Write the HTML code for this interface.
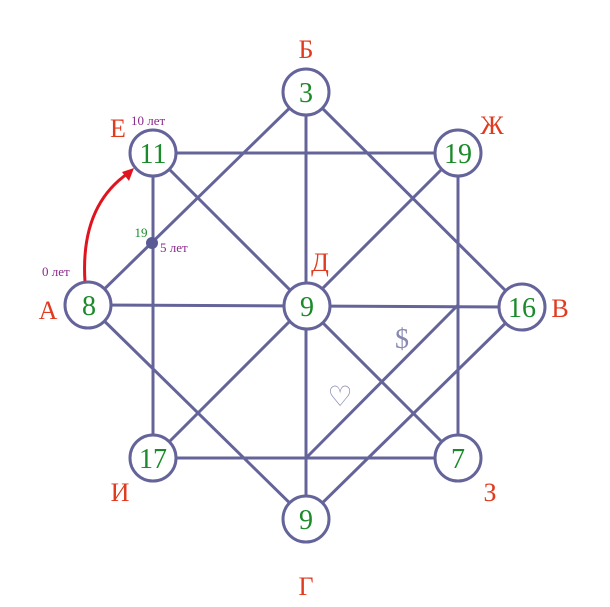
<!DOCTYPE html>
<html><head><meta charset="utf-8"><style>body{margin:0;background:#fff}svg{display:block}</style></head><body>
<svg width="610" height="607" viewBox="0 0 610 607" xmlns="http://www.w3.org/2000/svg" font-family="Liberation Serif, serif">
<g stroke="#64649a" stroke-width="3" fill="none">
<line x1="153" y1="153" x2="458" y2="153"/><line x1="458" y1="153" x2="458" y2="458"/>
<line x1="458" y1="458" x2="153" y2="458"/><line x1="153" y1="458" x2="153" y2="153"/>
<line x1="306" y1="92" x2="522" y2="307"/><line x1="522" y1="307" x2="306" y2="519"/>
<line x1="306" y1="519" x2="88" y2="305"/><line x1="88" y1="305" x2="306" y2="92"/>
<line x1="88" y1="305" x2="522" y2="307"/><line x1="306" y1="92" x2="306" y2="519"/>
<line x1="153" y1="153" x2="458" y2="458"/><line x1="458" y1="153" x2="153" y2="458"/>
<line x1="458" y1="305" x2="306" y2="458"/>
</g>
<circle cx="152" cy="243" r="6" fill="#5a5a94"/>
<path d="M85 282 Q80 205 130 172" stroke="#e0141e" stroke-width="3" fill="none"/>
<polygon points="134,168 122,172 129,181" fill="#e0141e"/>
<g fill="#fff" stroke="#64649a" stroke-width="3">
<circle cx="306" cy="92" r="23"/><circle cx="153" cy="153" r="23"/><circle cx="458" cy="153" r="23"/>
<circle cx="88" cy="305" r="23"/><circle cx="307" cy="306" r="23"/><circle cx="522" cy="307" r="23"/>
<circle cx="153" cy="458" r="23"/><circle cx="458" cy="458" r="23"/><circle cx="306" cy="519" r="23"/>
</g>
<g fill="#1a8a2a" font-size="28" text-anchor="middle">
<text x="306" y="102">3</text><text x="153" y="163">11</text><text x="458" y="163">19</text>
<text x="89" y="315">8</text><text x="307" y="316">9</text><text x="522" y="317">16</text>
<text x="153" y="468">17</text><text x="458" y="468">7</text><text x="306" y="529">9</text>
<text x="141" y="237" font-size="13">19</text>
</g>
<g fill="#e03a1f" font-size="26" text-anchor="middle">
<text x="306" y="58">Б</text><text x="118" y="137">Е</text><text x="492" y="134">Ж</text>
<text x="48" y="319">А</text><text x="560" y="317">В</text><text x="320" y="271">Д</text>
<text x="120" y="501">И</text><text x="490" y="501">З</text><text x="306" y="595">Г</text>
</g>
<g fill="#8a2a8a" font-size="13">
<text x="131" y="125">10 лет</text><text x="160" y="252">5 лет</text><text x="42" y="276">0 лет</text>
</g>
<text x="402" y="348" fill="#8888b0" font-size="28" text-anchor="middle">$</text>
<text x="340" y="406" fill="#8888b0" font-size="28" text-anchor="middle">♡</text>
</svg>
</body></html>
